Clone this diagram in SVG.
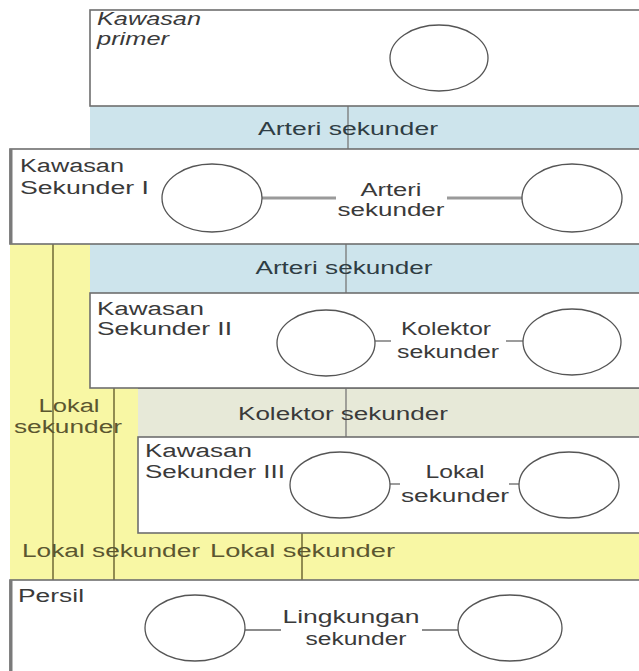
<svg xmlns="http://www.w3.org/2000/svg" width="639" height="671" viewBox="0 0 639 671">
<style>
text{font-family:"Liberation Sans",Arial,sans-serif;font-size:18px;fill:#3a3a3a}
.c{text-anchor:middle}
.box{fill:#fff;stroke:#6e6e6e;stroke-width:1.6}
.edge{stroke:#7a7a7a;stroke-width:3}
.blue{fill:#cde4ec}
.beige{fill:#e7e9d8}
.yel{fill:#f8f7a4}
.band{stroke:#6e6e6e;stroke-width:1.6}
.ell{fill:#fff;stroke:#555;stroke-width:1.3}
.thick{stroke:#9a9a9a;stroke-width:3;fill:none}
.thin{stroke:#666;stroke-width:1.3;fill:none}
.olive{stroke:#77713c;stroke-width:1.6;fill:none}
.tick{stroke:#777;stroke-width:1.3}
.ytext{fill:#5b5630}
.btext{fill:#2f3d44}
</style>
<rect width="639" height="671" fill="#fff"/>
<g id="background">
<rect class="yel" x="10" y="244" width="80" height="336"/>
<rect class="yel" x="90" y="388" width="48" height="192"/>
<rect class="yel" x="10" y="533" width="635" height="47"/>
<rect class="blue" x="90" y="106" width="555" height="43"/>
<rect class="blue" x="90" y="244" width="555" height="49"/>
<rect class="beige" x="138" y="388" width="507" height="49"/>
</g>
<g id="connectors">
<line class="tick" x1="348" y1="106" x2="348" y2="149"/>
<line class="tick" x1="346" y1="244" x2="346" y2="293"/>
<line class="tick" x1="346" y1="388" x2="346" y2="437"/>
<line class="olive" x1="53" y1="244" x2="53" y2="581"/>
<line class="olive" x1="114" y1="388" x2="114" y2="581"/>
<line class="olive" x1="302" y1="533" x2="302" y2="581"/>
</g>
<g id="band-arteri-1">
<text class="c btext" x="348" y="135" textLength="180" lengthAdjust="spacingAndGlyphs">Arteri sekunder</text>
</g>
<g id="band-arteri-2">
<text class="c btext" x="344" y="274" textLength="177" lengthAdjust="spacingAndGlyphs">Arteri sekunder</text>
</g>
<g id="band-kolektor">
<line class="band" x1="138" y1="388" x2="645" y2="388"/>
<text class="c" x="343" y="420" textLength="210" lengthAdjust="spacingAndGlyphs">Kolektor sekunder</text>
</g>
<g id="lokal-left">
<text class="c ytext" x="69" y="412" textLength="61" lengthAdjust="spacingAndGlyphs">Lokal</text>
<text class="c ytext" x="68" y="433" textLength="108" lengthAdjust="spacingAndGlyphs">sekunder</text>
</g>
<g id="band-lokal">
<text class="ytext" x="22" y="557" textLength="178" lengthAdjust="spacingAndGlyphs">Lokal sekunder</text>
<text class="ytext" x="210" y="557" textLength="185" lengthAdjust="spacingAndGlyphs">Lokal sekunder</text>
</g>
<g id="kawasan-primer">
<rect class="box" x="90" y="10" width="555" height="96"/>
<text x="97" y="25" font-style="italic" font-size="17" textLength="104" lengthAdjust="spacingAndGlyphs">Kawasan</text>
<text x="97" y="45" font-style="italic" font-size="17" textLength="72" lengthAdjust="spacingAndGlyphs">primer</text>
<ellipse class="ell" cx="439" cy="58" rx="49" ry="33"/>
</g>
<g id="kawasan-sekunder-1">
<rect class="box" x="10" y="149" width="635" height="95"/>
<line class="edge" x1="11" y1="149" x2="11" y2="244"/>
<text x="20" y="172" textLength="104" lengthAdjust="spacingAndGlyphs">Kawasan</text>
<text x="20" y="194" textLength="129" lengthAdjust="spacingAndGlyphs">Sekunder I</text>
<line class="thick" x1="262" y1="198" x2="336" y2="198"/>
<line class="thick" x1="447" y1="198" x2="522" y2="198"/>
<ellipse class="ell" cx="212" cy="198" rx="50" ry="34"/>
<ellipse class="ell" cx="572" cy="198" rx="50" ry="34"/>
<text class="c" x="391" y="196" textLength="61" lengthAdjust="spacingAndGlyphs">Arteri</text>
<text class="c" x="391" y="216" textLength="107" lengthAdjust="spacingAndGlyphs">sekunder</text>
</g>
<g id="kawasan-sekunder-2">
<rect class="box" x="90" y="293" width="555" height="95"/>
<text x="97" y="315" textLength="107" lengthAdjust="spacingAndGlyphs">Kawasan</text>
<text x="97" y="335" textLength="135" lengthAdjust="spacingAndGlyphs">Sekunder II</text>
<line class="thin" x1="375" y1="341" x2="391" y2="341"/>
<line class="thin" x1="506" y1="341" x2="523" y2="341"/>
<ellipse class="ell" cx="326" cy="343" rx="49" ry="33"/>
<ellipse class="ell" cx="572" cy="342" rx="49" ry="33"/>
<text class="c" x="446" y="335" textLength="90" lengthAdjust="spacingAndGlyphs">Kolektor</text>
<text class="c" x="448" y="358" textLength="102" lengthAdjust="spacingAndGlyphs">sekunder</text>
</g>
<g id="kawasan-sekunder-3">
<rect class="box" x="138" y="437" width="507" height="96"/>
<text x="145" y="457" textLength="107" lengthAdjust="spacingAndGlyphs">Kawasan</text>
<text x="145" y="478" textLength="140" lengthAdjust="spacingAndGlyphs">Sekunder III</text>
<line class="thin" x1="390" y1="484" x2="400" y2="484"/>
<line class="thin" x1="509" y1="484" x2="520" y2="484"/>
<ellipse class="ell" cx="340" cy="485" rx="50" ry="33"/>
<ellipse class="ell" cx="569" cy="485" rx="50" ry="33"/>
<text class="c" x="455" y="478" textLength="59" lengthAdjust="spacingAndGlyphs">Lokal</text>
<text class="c" x="455" y="502" textLength="108" lengthAdjust="spacingAndGlyphs">sekunder</text>
</g>
<g id="persil">
<rect class="box" x="10" y="580" width="635" height="100"/>
<line class="edge" x1="11" y1="580" x2="11" y2="671"/>
<text x="18" y="602" textLength="66" lengthAdjust="spacingAndGlyphs">Persil</text>
<line class="thin" x1="245" y1="630" x2="281" y2="630" stroke="#888" stroke-width="1.6"/>
<line class="thin" x1="422" y1="630" x2="458" y2="630" stroke="#888" stroke-width="1.6"/>
<ellipse class="ell" cx="195" cy="628" rx="50" ry="33"/>
<ellipse class="ell" cx="510" cy="628" rx="52" ry="33"/>
<text class="c" x="351" y="623" textLength="137" lengthAdjust="spacingAndGlyphs">Lingkungan</text>
<text class="c" x="356" y="645" textLength="101" lengthAdjust="spacingAndGlyphs">sekunder</text>
</g>
</svg>
